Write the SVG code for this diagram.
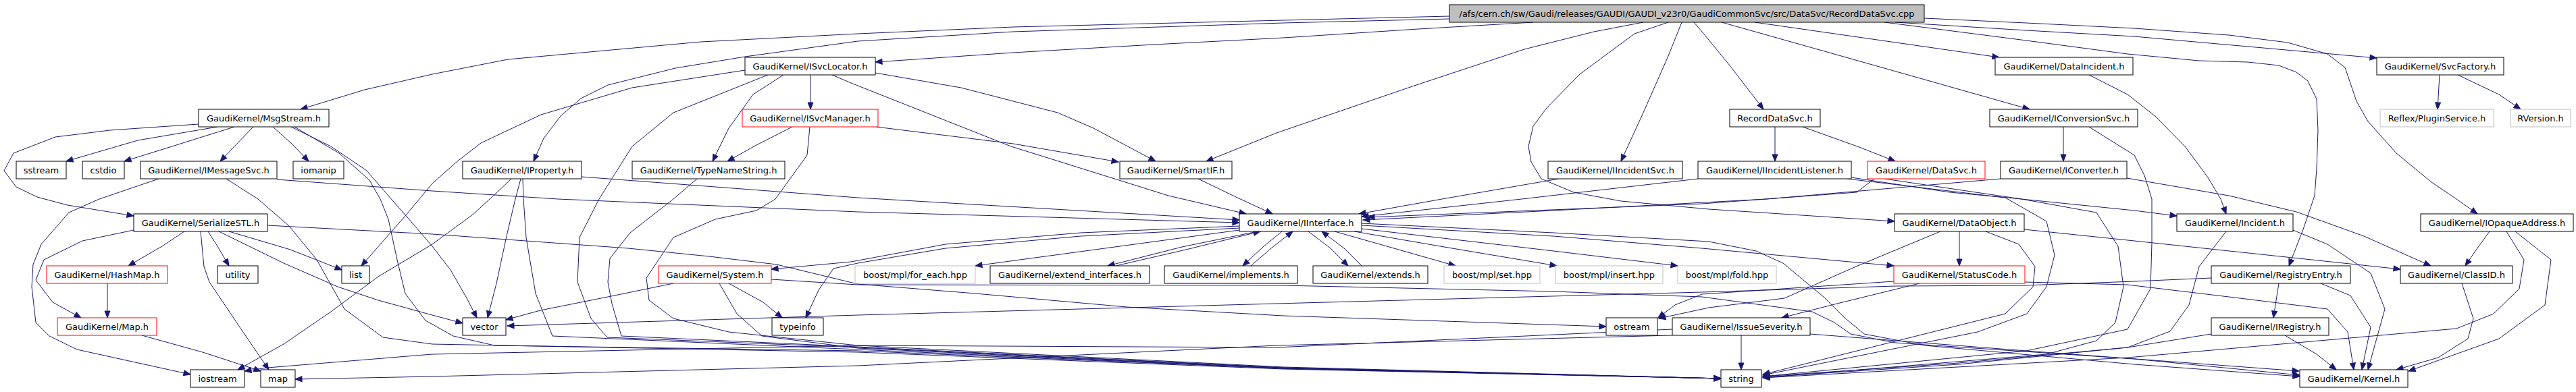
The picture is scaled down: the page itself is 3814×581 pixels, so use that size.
<svg xmlns="http://www.w3.org/2000/svg" width="3814" height="581" viewBox="0 0 3814 581">
<style>
.n rect{fill:#fff;stroke:#000;stroke-width:1}
.r rect{stroke:#f00}
.g rect{stroke:#bfbfbf}
.m rect{fill:#bfbfbf}
text{font-family:"DejaVu Sans","Liberation Sans",sans-serif;font-size:13px;text-anchor:middle;fill:#000}
#edges path{fill:none;stroke:#191970;stroke-width:1;stroke-linejoin:round;marker-end:url(#a)}
</style>
<defs>
<marker id="a" markerUnits="userSpaceOnUse" markerWidth="10" markerHeight="8" refX="10" refY="4" orient="auto" overflow="visible">
<path d="M0,0 L10,4 L0,8 z" fill="#191970" stroke="#191970" stroke-width="1"/>
</marker>
</defs>
<rect width="3814" height="581" fill="#fff"/>
<g id="edges">
<path d="M2146,24 L1900,30 L1500,40 L1270,50 L1038,62 L752,88 L640,110 L540,133 L445,162"/>
<path d="M2146,28 L1900,34 L1500,47 L1270,61 L1103,84 L1000,101 L900,126 L860,146 L830,172 L805,205 L790,239"/>
<path d="M2270,33 L2100,43 L1900,56 L1709,66 L1500,78 L1296,92"/>
<path d="M2433,33 L2360,47 L2257,73 L2094,127 L1890,197 L1786,239"/>
<path d="M2470,33 L2420,50 L2339,110 L2290,160 L2270,187 L2263,217 L2267,240 L2282,265 L2330,285 L2400,298 L2530,310 L2805,328"/>
<path d="M2490,33 L2470,83 L2433,167 L2400,239"/>
<path d="M2508,33 L2520,47 L2561,97 L2611,162"/>
<path d="M2549,33 L2765,94 L3005,162"/>
<path d="M2598,33 L2800,62 L2960,85"/>
<path d="M2806,33 L3000,45 L3160,54 L3519,86"/>
<path d="M2790,33 L3000,60 L3150,80 L3256,90 L3328,92 L3374,97 L3400,107 L3417,120 L3430,147 L3432,193 L3430,250 L3427,290 L3410,340 L3389,394"/>
<path d="M2849,27 L3000,34 L3160,42 L3300,52 L3387,63 L3446,80 L3472,100 L3489,150 L3506,180 L3548,227 L3600,270 L3637,295 L3668,317"/>
<path d="M322,188 L204,208 L98,239"/>
<path d="M347,188 L245,220 L184,239"/>
<path d="M375,188 L347,217 L326,239"/>
<path d="M404,188 L432,213 L457,239"/>
<path d="M294,184 L163,193 L82,203 L20,227 L6,253 L24,277 L55,292 L100,304 L198,320"/>
<path d="M431,188 L490,217 L543,253 L575,290 L610,330 L640,365 L667,400 L690,440 L706,471"/>
<path d="M436,188 L502,227 L547,267 L563,295 L575,325 L588,385 L600,435 L630,475 L671,498 L732,512 L1270,520 L1900,546 L2548,561"/>
<path d="M235,265 L147,295 L102,315 L61,362 L49,392 L47,425 L53,478 L73,498 L114,518 L282,555"/>
<path d="M410,266 L640,283 L826,295 L1270,314 L1835,330"/>
<path d="M335,265 L382,295 L428,335 L469,385 L510,458 L567,500 L640,510 L1270,522 L1900,547 L2548,561"/>
<path d="M861,262 L1270,293 L1835,326"/>
<path d="M757,265 L736,285 L700,318 L640,362 L560,410 L490,462 L420,510 L352,548"/>
<path d="M771,265 L763,295 L750,350 L735,420 L722,471"/>
<path d="M774,265 L775,295 L779,352 L793,435 L818,498 L1270,518 L1900,546 L2548,561"/>
<path d="M1200,111 L1200,162"/>
<path d="M1160,111 L1115,140 L1079,190 L1055,239"/>
<path d="M1296,108 L1423,130 L1566,167 L1619,190 L1711,239"/>
<path d="M1232,111 L1260,123 L1497,217 L1730,290 L1845,317"/>
<path d="M1103,104 L936,130 L801,170 L712,212 L676,240 L640,272 L600,320 L535,394"/>
<path d="M1137,111 L997,167 L936,217 L887,295 L858,352 L855,418 L875,472 L899,500 L1270,515 L1900,545 L2548,561"/>
<path d="M1173,188 L1120,215 L1077,239"/>
<path d="M1297,188 L1500,213 L1656,240"/>
<path d="M1199,188 L1195,230 L1148,295 L1120,312 L1059,325 L997,352 L957,412 L961,445 L997,472 L1079,492 L1270,512 L1900,544 L2548,561"/>
<path d="M1032,265 L997,295 L933,345 L903,383 L900,418 L906,450 L920,498 L1270,514 L1900,545 L2548,561"/>
<path d="M1774,265 L1830,292 L1884,317"/>
<path d="M2308,265 L2135,295 L2012,317"/>
<path d="M2514,265 L2253,295 L2016,321"/>
<path d="M2741,263 L2887,285 L2973,293 L3160,312 L3223,320"/>
<path d="M2735,265 L2969,293 L3030,328 L3042,378 L3030,425 L3001,465 L2928,492 L2610,556"/>
<path d="M2790,265 L2993,295 L3104,315 L3136,365 L3144,425 L3132,478 L3104,505 L3030,525 L2610,560"/>
<path d="M2775,265 L2749,285 L2520,302 L2025,322"/>
<path d="M2962,265 L2616,295 L2300,312 L2018,326"/>
<path d="M3149,264 L3300,290 L3400,314 L3500,350 L3599,394"/>
<path d="M3055,188 L3055,239"/>
<path d="M3093,188 L3160,230 L3175,260 L3186,295 L3186,360 L3184,428 L3150,488 L3000,520 L2610,558"/>
<path d="M3093,111 L3150,140 L3192,173 L3235,217 L3269,263 L3288,295 L3296,317"/>
<path d="M2628,188 L2628,239"/>
<path d="M2669,188 L2750,217 L2806,239"/>
<path d="M3612,111 L3609,162"/>
<path d="M3639,111 L3700,140 L3732,162"/>
<path d="M273,343 L240,365 L190,394"/>
<path d="M198,341 L122,357 L65,385 L53,415 L78,448 L120,471"/>
<path d="M308,343 L322,365 L339,394"/>
<path d="M339,343 L430,370 L506,400"/>
<path d="M324,343 L420,390 L500,425 L560,445 L640,467 L685,479"/>
<path d="M297,343 L302,395 L310,418 L355,485 L398,548"/>
<path d="M396,334 L640,347 L930,368 L1050,380 L1150,392 L1270,421 L1444,435 L1668,455 L1900,468 L2378,484"/>
<path d="M159,420 L159,471"/>
<path d="M210,497 L300,522 L386,550"/>
<path d="M997,420 L900,440 L800,460 L749,474"/>
<path d="M1079,420 L1130,448 L1158,471"/>
<path d="M1065,420 L1091,465 L1128,498 L1270,516 L1900,546 L2548,561"/>
<path d="M1142,414 L1270,422 L1900,423 L2300,432 L2520,440 L2683,462 L2716,478 L2740,495 L2806,508 L3160,532 L3405,556"/>
<path d="M1835,335 L1600,345 L1400,362 L1260,388 L1142,399"/>
<path d="M1835,338 L1600,350 L1400,368 L1270,390 L1234,398 L1212,430 L1193,471"/>
<path d="M1835,341 L1444,394"/>
<path d="M1862,343 L1750,366 L1640,394"/>
<path d="M1652,394 L1760,369 L1866,343"/>
<path d="M1898,343 L1870,366 L1840,394"/>
<path d="M1852,394 L1882,368 L1914,343"/>
<path d="M1937,343 L1970,368 L1996,394"/>
<path d="M2016,394 L1990,368 L1957,343"/>
<path d="M1976,343 L2155,394"/>
<path d="M2005,343 L2150,368 L2305,394"/>
<path d="M2016,339 L2300,372 L2484,394"/>
<path d="M2016,334 L2300,350 L2520,368 L2804,394"/>
<path d="M2016,331 L2300,345 L2530,358 L2600,372 L2640,390 L2670,415 L2700,440 L2730,470 L2760,495 L2850,512 L3160,540 L3405,558"/>
<path d="M2842,420 L2720,450 L2638,471"/>
<path d="M2804,417 L2520,436 L2480,452 L2455,471"/>
<path d="M2998,418 L3150,422 L3300,440 L3446,458 L3476,492 L3485,548"/>
<path d="M2578,497 L2578,548"/>
<path d="M2680,495 L3000,520 L3404,550"/>
<path d="M2476,497 L1890,512 L1270,542 L640,558 L437,562"/>
<path d="M2476,488 L1890,515 L1270,512 L640,525 L396,545 L362,550"/>
<path d="M2901,343 L2901,394"/>
<path d="M2997,340 L3160,357 L3554,399"/>
<path d="M2873,343 L2748,395 L2642,442 L2530,456 L2456,472"/>
<path d="M2940,343 L2989,362 L3013,395 L3010,425 L2969,465 L2610,555"/>
<path d="M3296,343 L3256,395 L3241,452 L3213,491 L3150,515 L2900,538 L2610,558"/>
<path d="M3395,341 L3446,362 L3510,405 L3531,458 L3506,548"/>
<path d="M3374,420 L3366,471"/>
<path d="M3436,420 L3480,438 L3510,485 L3497,548"/>
<path d="M3274,412 L3160,417 L2998,423 L2806,424 L2520,433 L1890,450 L1270,467 L751,483"/>
<path d="M3383,497 L3430,525 L3459,548"/>
<path d="M3274,495 L3150,515 L2900,540 L2610,559"/>
<path d="M3645,420 L3662,472 L3654,502 L3610,530 L3548,548"/>
<path d="M3686,343 L3665,372 L3650,394"/>
<path d="M3724,343 L3777,385 L3768,452 L3700,502 L3566,550"/>
<path d="M3711,343 L3737,385 L3730,428 L3692,465 L3637,487 L3400,508 L3150,530 L2610,560"/>
</g>
<g id="main" class="n m"><rect x="2146" y="7" width="703" height="26"/><text x="2497.5" y="24.5">/afs/cern.ch/sw/Gaudi/releases/GAUDI/GAUDI_v23r0/GaudiCommonSvc/src/DataSvc/RecordDataSvc.cpp</text></g>
<g id="ISvcLocator" class="n"><rect x="1103" y="85" width="193" height="26"/><text x="1199.5" y="102.5">GaudiKernel/ISvcLocator.h</text></g>
<g id="DataIncident" class="n"><rect x="2954" y="85" width="204" height="26"/><text x="3056" y="102.5">GaudiKernel/DataIncident.h</text></g>
<g id="SvcFactory" class="n"><rect x="3519" y="85" width="188" height="26"/><text x="3613" y="102.5">GaudiKernel/SvcFactory.h</text></g>
<g id="MsgStream" class="n"><rect x="294" y="162" width="193" height="26"/><text x="390.5" y="179.5">GaudiKernel/MsgStream.h</text></g>
<g id="ISvcManager" class="n r"><rect x="1099" y="162" width="201" height="26"/><text x="1199.5" y="179.5">GaudiKernel/ISvcManager.h</text></g>
<g id="RecordDataSvc" class="n"><rect x="2561" y="162" width="134" height="26"/><text x="2628" y="179.5">RecordDataSvc.h</text></g>
<g id="IConversionSvc" class="n"><rect x="2946" y="162" width="219" height="26"/><text x="3055.5" y="179.5">GaudiKernel/IConversionSvc.h</text></g>
<g id="Reflex" class="n g"><rect x="3524" y="162" width="168" height="26"/><text x="3608" y="179.5">Reflex/PluginService.h</text></g>
<g id="RVersion" class="n g"><rect x="3717" y="162" width="89" height="26"/><text x="3761.5" y="179.5">RVersion.h</text></g>
<g id="sstream" class="n"><rect x="24" y="239" width="74" height="26"/><text x="61" y="256.5">sstream</text></g>
<g id="cstdio" class="n"><rect x="122" y="239" width="62" height="26"/><text x="153" y="256.5">cstdio</text></g>
<g id="IMessageSvc" class="n"><rect x="208" y="239" width="202" height="26"/><text x="309" y="256.5">GaudiKernel/IMessageSvc.h</text></g>
<g id="iomanip" class="n"><rect x="434" y="239" width="75" height="26"/><text x="471.5" y="256.5">iomanip</text></g>
<g id="IProperty" class="n"><rect x="685" y="239" width="176" height="26"/><text x="773" y="256.5">GaudiKernel/IProperty.h</text></g>
<g id="TypeNameString" class="n"><rect x="936" y="239" width="226" height="26"/><text x="1049" y="256.5">GaudiKernel/TypeNameString.h</text></g>
<g id="SmartIF" class="n"><rect x="1658" y="239" width="166" height="26"/><text x="1741" y="256.5">GaudiKernel/SmartIF.h</text></g>
<g id="IIncidentSvc" class="n"><rect x="2292" y="239" width="199" height="26"/><text x="2391.5" y="256.5">GaudiKernel/IIncidentSvc.h</text></g>
<g id="IIncidentListener" class="n"><rect x="2514" y="239" width="227" height="26"/><text x="2627.5" y="256.5">GaudiKernel/IIncidentListener.h</text></g>
<g id="DataSvc" class="n r"><rect x="2765" y="239" width="174" height="26"/><text x="2852" y="256.5">GaudiKernel/DataSvc.h</text></g>
<g id="IConverter" class="n"><rect x="2962" y="239" width="187" height="26"/><text x="3055.5" y="256.5">GaudiKernel/IConverter.h</text></g>
<g id="SerializeSTL" class="n"><rect x="198" y="317" width="198" height="26"/><text x="297" y="334.5">GaudiKernel/SerializeSTL.h</text></g>
<g id="IInterface" class="n"><rect x="1835" y="317" width="181" height="26"/><text x="1925.5" y="334.5">GaudiKernel/IInterface.h</text></g>
<g id="DataObject" class="n"><rect x="2805" y="317" width="192" height="26"/><text x="2901" y="334.5">GaudiKernel/DataObject.h</text></g>
<g id="Incident" class="n"><rect x="3223" y="317" width="172" height="26"/><text x="3309" y="334.5">GaudiKernel/Incident.h</text></g>
<g id="IOpaqueAddress" class="n"><rect x="3584" y="317" width="226" height="26"/><text x="3697" y="334.5">GaudiKernel/IOpaqueAddress.h</text></g>
<g id="HashMap" class="n r"><rect x="69" y="394" width="179" height="26"/><text x="158.5" y="411.5">GaudiKernel/HashMap.h</text></g>
<g id="utility" class="n"><rect x="322" y="394" width="60" height="26"/><text x="352" y="411.5">utility</text></g>
<g id="list" class="n"><rect x="506" y="394" width="41" height="26"/><text x="526.5" y="411.5">list</text></g>
<g id="System" class="n r"><rect x="975" y="394" width="167" height="26"/><text x="1058.5" y="411.5">GaudiKernel/System.h</text></g>
<g id="for_each" class="n g"><rect x="1266" y="394" width="178" height="26"/><text x="1355" y="411.5">boost/mpl/for_each.hpp</text></g>
<g id="extend_interfaces" class="n"><rect x="1466" y="394" width="236" height="26"/><text x="1584" y="411.5">GaudiKernel/extend_interfaces.h</text></g>
<g id="implements" class="n"><rect x="1724" y="394" width="197" height="26"/><text x="1822.5" y="411.5">GaudiKernel/implements.h</text></g>
<g id="extends" class="n"><rect x="1944" y="394" width="170" height="26"/><text x="2029" y="411.5">GaudiKernel/extends.h</text></g>
<g id="set" class="n g"><rect x="2138" y="394" width="142" height="26"/><text x="2209" y="411.5">boost/mpl/set.hpp</text></g>
<g id="insert" class="n g"><rect x="2303" y="394" width="159" height="26"/><text x="2382.5" y="411.5">boost/mpl/insert.hpp</text></g>
<g id="fold" class="n g"><rect x="2484" y="394" width="146" height="26"/><text x="2557" y="411.5">boost/mpl/fold.hpp</text></g>
<g id="StatusCode" class="n r"><rect x="2804" y="394" width="194" height="26"/><text x="2901" y="411.5">GaudiKernel/StatusCode.h</text></g>
<g id="RegistryEntry" class="n"><rect x="3274" y="394" width="206" height="26"/><text x="3377" y="411.5">GaudiKernel/RegistryEntry.h</text></g>
<g id="ClassID" class="n"><rect x="3554" y="394" width="166" height="26"/><text x="3637" y="411.5">GaudiKernel/ClassID.h</text></g>
<g id="Map" class="n r"><rect x="85" y="471" width="147" height="26"/><text x="158.5" y="488.5">GaudiKernel/Map.h</text></g>
<g id="vector" class="n"><rect x="685" y="471" width="64" height="26"/><text x="717" y="488.5">vector</text></g>
<g id="typeinfo" class="n"><rect x="1143" y="471" width="76" height="26"/><text x="1181" y="488.5">typeinfo</text></g>
<g id="ostream" class="n"><rect x="2378" y="471" width="76" height="26"/><text x="2416" y="488.5">ostream</text></g>
<g id="IssueSeverity" class="n"><rect x="2476" y="471" width="204" height="26"/><text x="2578" y="488.5">GaudiKernel/IssueSeverity.h</text></g>
<g id="IRegistry" class="n"><rect x="3274" y="471" width="174" height="26"/><text x="3361" y="488.5">GaudiKernel/IRegistry.h</text></g>
<g id="iostream" class="n"><rect x="282" y="548" width="80" height="26"/><text x="322" y="565.5">iostream</text></g>
<g id="map" class="n"><rect x="386" y="548" width="51" height="26"/><text x="411.5" y="565.5">map</text></g>
<g id="string" class="n"><rect x="2548" y="548" width="60" height="26"/><text x="2578" y="565.5">string</text></g>
<g id="Kernel" class="n"><rect x="3405" y="548" width="160" height="26"/><text x="3485" y="565.5">GaudiKernel/Kernel.h</text></g>
</svg>
